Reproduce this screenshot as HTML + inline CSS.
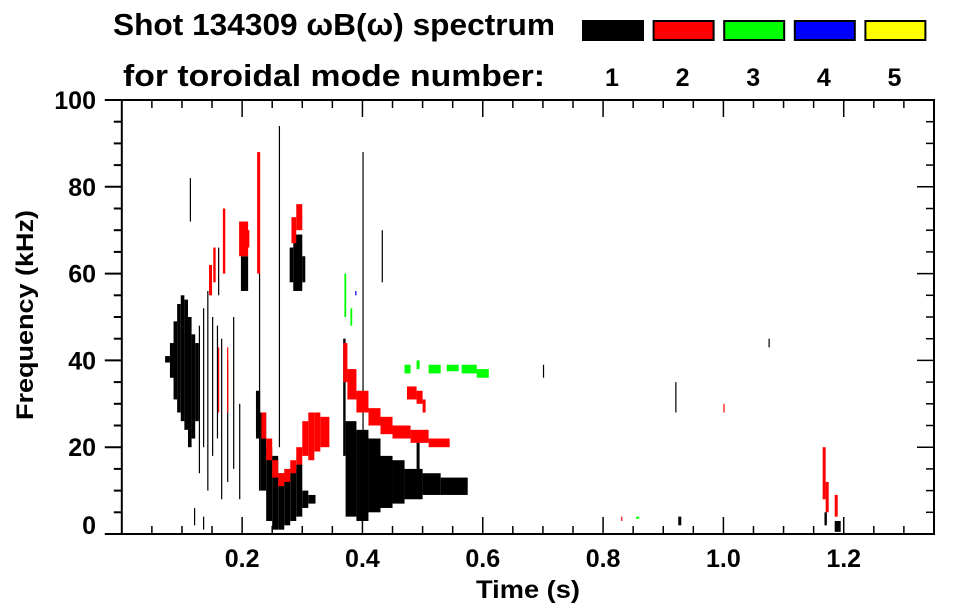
<!DOCTYPE html>
<html><head><meta charset="utf-8"><style>
html,body{margin:0;padding:0;background:#fff;}
svg{display:block;font-family:"Liberation Sans",sans-serif;font-weight:bold;}
</style></head><body>
<svg id="chart" width="963" height="615" viewBox="0 0 963 615" xmlns="http://www.w3.org/2000/svg">
<text x="113" y="35" font-size="31" textLength="442" lengthAdjust="spacingAndGlyphs">Shot 134309 ωB(ω) spectrum</text>
<text x="123" y="86" font-size="31" textLength="422" lengthAdjust="spacingAndGlyphs">for toroidal mode number:</text>
<g id="legend"></g>
<g id="marks"></g>
<g id="axes"></g>
<text transform="translate(33,315) rotate(-90)" text-anchor="middle" font-size="24" textLength="210" lengthAdjust="spacingAndGlyphs">Frequency (kHz)</text>
<text x="528" y="598" text-anchor="middle" font-size="25" textLength="104" lengthAdjust="spacingAndGlyphs">Time (s)</text>
</svg>
<script>
const modeLabels = ["1","2","3","4","5"];
const modeColors = ["#000000","#ff0000","#00ff00","#0000ff","#ffff00"];
const xTicks = [0.2,0.4,0.6,0.8,1.0,1.2];
const xTickLabels = ["0.2","0.4","0.6","0.8","1.0","1.2"];
const yTicks = [0,20,40,60,80,100];
const yTickLabels = ["0","20","40","60","80","100"];
// segments: start time (s), end time (s), low freq (kHz), high freq (kHz), mode index
const segT0 = [0.072,0.08,0.086,0.092,0.098,0.104,0.110,0.116,0.122,0.128,0.135,0.142,0.150,0.158,0.165,0.175,0.185,0.195,0.12,0.135,0.113,0.160,0.198,
 0.145,0.152,0.168,0.195,0.205,0.16,0.175,0.225,0.261,0.228,
 0.223,0.23,0.24,0.25,0.26,0.27,0.28,0.29,0.30,0.31,
 0.232,0.24,0.25,0.26,0.27,0.28,0.29,0.30,0.31,0.32,0.33,
 0.279,0.285,0.30,0.282,0.29,
 0.368,0.372,0.39,0.41,0.43,0.45,0.47,0.5,0.53,0.4,0.432,0.49,
 0.368,0.375,0.39,0.41,0.43,0.45,0.48,0.51,0.474,0.49,0.5,
 0.47,0.49,0.51,0.54,0.565,0.59,0.37,0.38,0.388,
 0.7,0.92,1.075,1.0,0.925,0.83,0.855,1.165,1.17,1.185,1.168,1.185];
const segT1 = [0.08,0.086,0.092,0.098,0.104,0.110,0.116,0.122,0.128,0.130,0.137,0.144,0.152,0.160,0.166,0.176,0.186,0.196,0.121,0.137,0.115,0.161,0.21,
 0.15,0.156,0.172,0.21,0.212,0.162,0.177,0.23,0.263,0.23,
 0.23,0.24,0.25,0.26,0.27,0.28,0.29,0.30,0.31,0.322,
 0.24,0.25,0.26,0.27,0.28,0.29,0.30,0.31,0.32,0.33,0.345,
 0.285,0.30,0.305,0.29,0.30,
 0.372,0.39,0.41,0.43,0.45,0.47,0.5,0.53,0.575,0.402,0.434,0.495,
 0.375,0.39,0.41,0.43,0.45,0.48,0.51,0.545,0.49,0.5,0.505,
 0.48,0.495,0.53,0.56,0.59,0.61,0.373,0.383,0.39,
 0.702,0.922,1.077,1.002,0.93,0.832,0.86,1.17,1.175,1.19,1.172,1.195];
const segLo = [39.5,36,31,28,26,24,20,22,26,14,20,10,18,22,8,12,15,8,2,1,72,55,56,
 55,58,60,64,66,28,28,60,20,10,
 22,10,3,1,1,2,3,4,6,7,
 22,17,13,11,12,14,16,18,17,19,20,
 58,56,58,67,70,
 18,4,3,5,6,7,8,9,9,22,58,14,
 35,31,28,25,23,22,21,20,31,30,28,
 37,38,37,37.5,37,36,50,48,55,
 36,28,43,28,2,3,3.5,8,5,4,2,0.5];
const segHi = [41,44,49,53,55,54,50,46,44,48,52,56,50,48,45,40,50,30,6,4,82,66,64,
 62,66,75,72,70,43,43,88,94,60,
 33,28,20,18,14,13,15,16,10,9,
 28,22,17,14,15,17,20,26,28,28,27,
 66,69,64,73,76,
 45,26,24,22,18,17,15,14,13,88,70,22,
 44,38,33,29,27,25,24,22,34,33,31,
 39,40,39,39,39,38,60,52,56,
 39,35,45,30,4,4,4,20,12,9,5,3];
const segMode = [0,0,0,0,0,0,0,0,0,0,0,0,0,0,0,0,0,0,0,0,0,0,0,
 1,1,1,1,1,1,1,1,0,0,
 0,0,0,0,0,0,0,0,0,0,
 1,1,1,1,1,1,1,1,1,1,1,
 0,0,0,1,1,
 0,0,0,0,0,0,0,0,0,0,0,0,
 1,1,1,1,1,1,1,1,1,1,1,
 2,2,2,2,2,2,2,2,3,
 0,0,0,1,0,1,2,1,1,1,0,0];

const NS="http://www.w3.org/2000/svg";
const X0=121.8, XS=601.6, Y0=534, YS=4.34, XR=934, YT=100;
function xs(t){return X0+t*XS;}
function ys(f){return Y0-f*YS;}
function mk(tag,attrs,parent){const e=document.createElementNS(NS,tag);for(const k in attrs)e.setAttribute(k,attrs[k]);parent.appendChild(e);return e;}

const leg=document.getElementById('legend');
for(let i=0;i<modeLabels.length;i++){
  const bx=582+i*70.6;
  const r=mk('rect',{x:bx+1,y:21,width:60,height:19,fill:modeColors[i],stroke:'#000','stroke-width':2},leg);
  
  
  const t=mk('text',{x:bx+30,y:86,'text-anchor':'middle','font-size':25},leg);
  t.textContent=modeLabels[i];
  
  
}

const marks=document.getElementById('marks');
for(let i=0;i<segT0.length;i++){
  const x1=xs(segT0[i]), x2=xs(segT1[i]);
  const y1=ys(segHi[i]), y2=ys(segLo[i]);
  const r=mk('rect',{x:x1,y:y1,width:Math.max(1.2,x2-x1),height:Math.max(1,y2-y1),fill:modeColors[segMode[i]]},marks);
  
  
}

const ax=document.getElementById('axes');
const frame=mk('path',{d:`M${X0},${YT}V${Y0}H${XR}V${YT}H${X0}`,fill:'none',stroke:'#000','stroke-width':2},ax);


for(let f=0;f<=100;f+=5){
  const y=ys(f), major=(f%20===0);
  mk('line',{x1:X0-(major?17:8),x2:X0,y1:y,y2:y,stroke:'#000','stroke-width':2},ax);
  mk('line',{x1:XR,x2:XR-(major?17:8),y1:y,y2:y,stroke:'#000','stroke-width':1.5},ax);
}
for(let k=1;k*0.05<1.35;k++){
  const t=k*0.05, x=xs(t), major=(k%4===0);
  mk('line',{x1:x,x2:x,y1:Y0,y2:Y0-(major?17:8),stroke:'#000','stroke-width':1.5},ax);
  mk('line',{x1:x,x2:x,y1:YT,y2:YT+(major?17:8),stroke:'#000','stroke-width':1.5},ax);
}
for(let i=0;i<xTicks.length;i++){
  const t=mk('text',{x:xs(xTicks[i]),y:567,'text-anchor':'middle','font-size':25},ax);
  t.textContent=xTickLabels[i];
  
  
}
for(let i=0;i<yTicks.length;i++){
  let y=ys(yTicks[i]); if(yTicks[i]===0) y=525;
  const t=mk('text',{x:96,y:y+9,'text-anchor':'end','font-size':25},ax);
  t.textContent=yTickLabels[i];
  
  
}
</script>
</body></html>
